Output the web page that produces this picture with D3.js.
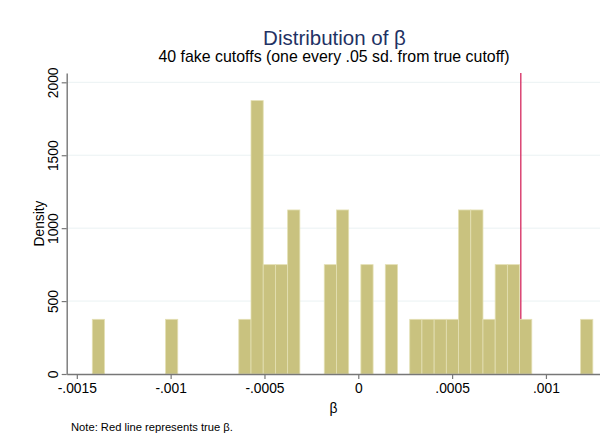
<!DOCTYPE html>
<html>
<head>
<meta charset="utf-8">
<script src="https://cdn.jsdelivr.net/npm/d3@7"></script>
<style>
  html, body { margin: 0; padding: 0; background: #fff; }
  svg { display: block; font-family: "Liberation Sans", Arial, Helvetica, sans-serif; }
</style>
</head>
<body>
<svg id="chart" width="600" height="439"></svg>
<script>
// Histogram bins of the estimated β across the 41 cutoffs (left edge of each bin)
const binLeft = [
  -0.0014175, -0.0010271, -0.0006368, -0.0005717, -0.0005067, -0.0004416,
  -0.0003765, -0.0001814, -0.0001163, 0.0000138, 0.0001439, 0.0002741,
  0.0003391, 0.0004042, 0.0004692, 0.0005343, 0.0005994, 0.0006644,
  0.0007295, 0.0007945, 0.0008596, 0.0011849
];
const binWidth = 0.00006506;
// Density of each bin
const density = [
  374.9, 374.9, 374.9, 1874.5, 749.8, 749.8,
  1124.7, 749.8, 1124.7, 749.8, 749.8, 374.9,
  374.9, 374.9, 374.9, 1124.7, 1124.7, 374.9,
  749.8, 749.8, 374.9, 374.9
];
// Position of the true β
const trueBeta = [0.000866];

const xTicks = [-0.0015, -0.001, -0.0005, 0, 0.0005, 0.001];
const xTickLabels = ["-.0015", "-.001", "-.0005", "0", ".0005", ".001"];
const yTicks = [0, 500, 1000, 1500, 2000];
const yTickLabels = ["0", "500", "1000", "1500", "2000"];

const svg = d3.select("#chart");
const plotL = 66.7, plotR = 600, plotT = 73, plotB = 374;

const x = d3.scaleLinear().domain([-0.0015539, 0.0012881]).range([plotL, plotR]);
const y = d3.scaleLinear().domain([0, 2063.8]).range([plotB, plotT]);

// horizontal grid lines
svg.append("g")
  .selectAll("line")
  .data(yTicks.filter(d => d > 0))
  .join("line")
  .attr("x1", plotL).attr("x2", plotR)
  .attr("y1", d => y(d)).attr("y2", d => y(d))
  .attr("stroke", "#eaf2f3").attr("stroke-width", 1);

// reference line for the true β (bars are drawn over it)
svg.append("g")
  .selectAll("line")
  .data(trueBeta)
  .join("line")
  .attr("x1", d => x(d)).attr("x2", d => x(d))
  .attr("y1", plotT).attr("y2", plotB)
  .attr("stroke", "#d8386a").attr("stroke-width", 1.4);

// bars
svg.append("g")
  .selectAll("rect")
  .data(binLeft.map((b, i) => ({ b, d: density[i] })))
  .join("rect")
  .attr("x", d => x(d.b))
  .attr("width", d => x(d.b + binWidth) - x(d.b))
  .attr("y", d => y(d.d))
  .attr("height", d => y(0) - y(d.d))
  .attr("fill", "#c9c27f")
  .attr("stroke", "#e4e0b4")
  .attr("stroke-width", 0.8);

// x axis
const xAxis = d3.axisBottom(x)
  .tickValues(xTicks)
  .tickFormat((d, i) => xTickLabels[i])
  .tickSizeInner(5).tickSizeOuter(0).tickPadding(4);
const gx = svg.append("g").attr("transform", `translate(0,${plotB})`).call(xAxis);
gx.select(".domain").attr("stroke", "#777").attr("stroke-width", 1.4);
gx.selectAll(".tick line").attr("stroke", "#777").attr("stroke-width", 1.2);
gx.selectAll(".tick text").attr("fill", "#000").attr("font-size", "13.8px")
  .attr("font-family", "Liberation Sans, Arial, sans-serif");

// y axis
const yAxis = d3.axisLeft(y)
  .tickValues(yTicks)
  .tickFormat((d, i) => yTickLabels[i])
  .tickSizeInner(5).tickSizeOuter(0).tickPadding(3);
const gy = svg.append("g").attr("transform", `translate(${plotL},0)`).call(yAxis);
gy.select(".domain").attr("stroke", "#777").attr("stroke-width", 1.4);
gy.selectAll(".tick line").attr("stroke", "#777").attr("stroke-width", 1.2);
gy.selectAll(".tick text")
  .attr("fill", "#000").attr("font-size", "13.8px")
  .attr("font-family", "Liberation Sans, Arial, sans-serif")
  .attr("text-anchor", "middle")
  .attr("dy", null)
  .attr("x", null)
  .attr("transform", "translate(-8.5,0) rotate(-90)");

// axis titles
svg.append("text")
  .attr("transform", `translate(44,${(plotT + plotB) / 2}) rotate(-90)`)
  .attr("text-anchor", "middle")
  .attr("font-size", "13.8px")
  .text("Density");

svg.append("text")
  .attr("x", (plotL + plotR) / 2).attr("y", 413)
  .attr("text-anchor", "middle")
  .attr("font-size", "13.8px")
  .text("β");

// titles
svg.append("text")
  .attr("x", 334.5).attr("y", 45)
  .attr("text-anchor", "middle")
  .attr("font-size", "20.5px")
  .attr("fill", "#1f3264")
  .text("Distribution of β");

svg.append("text")
  .attr("x", 334).attr("y", 62)
  .attr("text-anchor", "middle")
  .attr("font-size", "15.9px")
  .attr("fill", "#000")
  .text("40 fake cutoffs (one every .05 sd. from true cutoff)");

// note
svg.append("text")
  .attr("x", 71).attr("y", 431)
  .attr("font-size", "11.2px")
  .attr("fill", "#000")
  .text("Note: Red line represents true β.");
</script>
</body>
</html>
